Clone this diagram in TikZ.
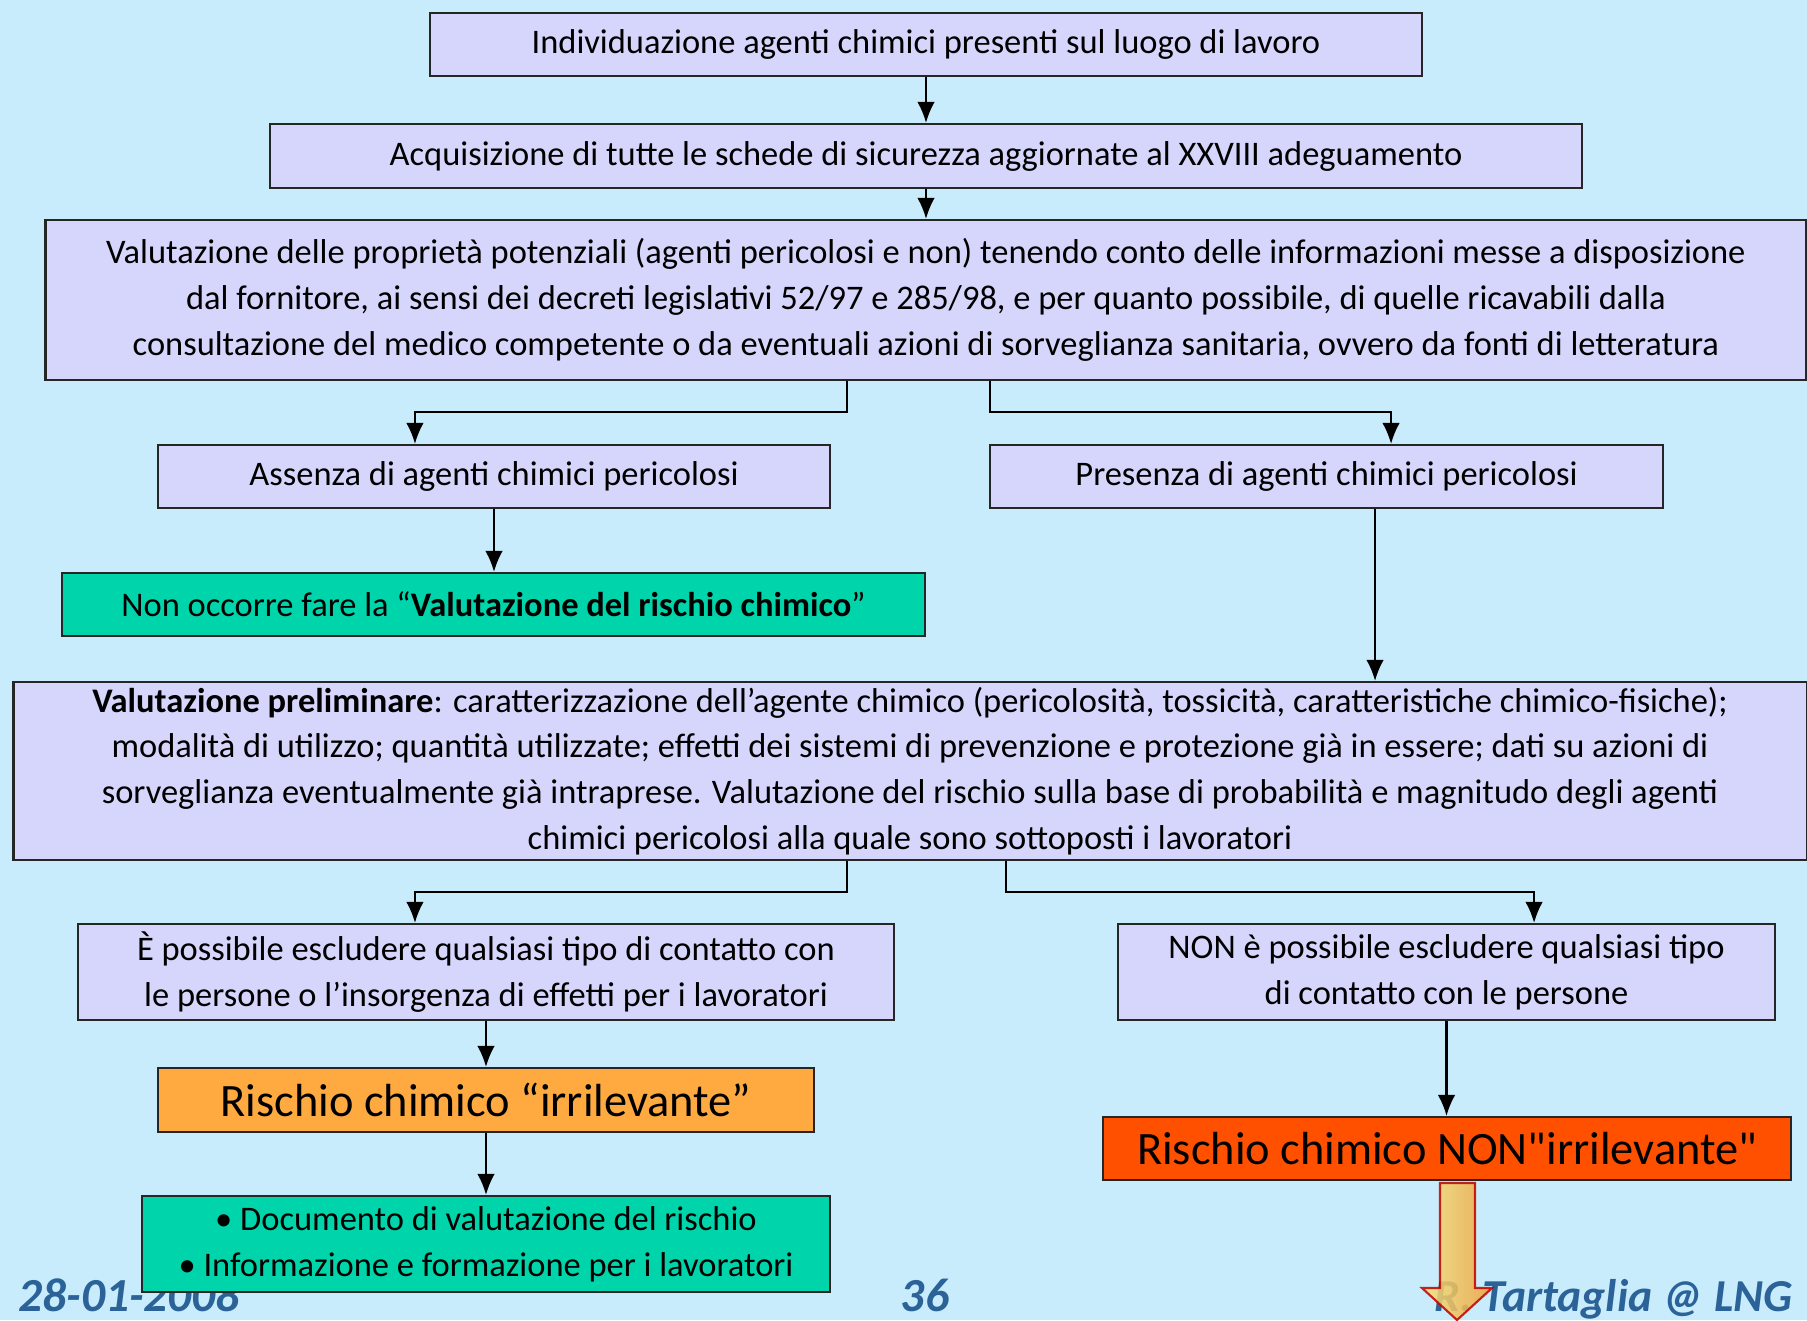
\documentclass[tikz,border=0pt]{standalone}
\usepackage{fontspec}
\setmainfont{Carlito}
\newfontfamily\dritto{Carlito}
\usetikzlibrary{arrows.meta}

\definecolor{sfondo}{HTML}{C8ECFC}
\definecolor{lilla}{HTML}{D6D6FC}
\definecolor{verdeacqua}{HTML}{00D4AA}
\definecolor{arancio}{HTML}{FFAA40}
\definecolor{rosso}{HTML}{FF5000}
\definecolor{blupiede}{HTML}{2B6399}
\definecolor{giallo}{HTML}{F6E27C}
\definecolor{ocra}{HTML}{F0A03A}

\begin{document}
\begin{tikzpicture}[x=0.01cm, y=-0.01cm,
        blocco/.style = {draw=black!85, line width=0.6pt, fill=lilla, align=center, inner sep=0pt,
                         font=\fontsize{9.8}{13}\selectfont},
        verde/.style = {blocco, fill=verdeacqua},
        rischio/.style = {blocco, font=\fontsize{13.2}{16}\selectfont},
        freccia/.style = {-{Latex[length=6pt,width=5pt]}, line width=0.6pt},
        piede/.style = {font=\fontsize{13.5}{16}\selectfont\bfseries\itshape, text=blupiede}]
                \useasboundingbox (0,0) rectangle (1807,1320);
                \fill[sfondo] (0,0) rectangle (1807,1320);

                \node[piede, anchor=base west] at (6, 1311) (data) {28-01-2008};
                \node[piede, anchor=base] at (925, 1311) (pagina) {36};
                \node[piede, font=\fontsize{13}{16}\selectfont\bfseries\itshape, anchor=base east] at (1805, 1311) (autore)
                        {R. Tartaglia @ LNG};

                \node[blocco, minimum width=9.92cm, minimum height=0.63cm] at (926, 44.5) (individua)
                        {Individuazione agenti chimici presenti sul luogo di lavoro};
                \node[blocco, minimum width=13.12cm, minimum height=0.64cm] at (926, 156) (schede)
                        {Acquisizione di tutte le schede di sicurezza aggiornate al XXVIII adeguamento};
                \node[blocco, minimum width=17.6cm, minimum height=1.6cm] at (926, 300) (proprieta)
                        {Valutazione delle proprietà potenziali (agenti pericolosi e non) tenendo conto delle informazioni messe a disposizione\\
                         dal fornitore, ai sensi dei decreti legislativi 52/97 e 285/98, e per quanto possibile, di quelle ricavabili dalla\\
                         consultazione del medico competente o da eventuali azioni di sorveglianza sanitaria, ovvero da fonti di letteratura};
                \node[blocco, minimum width=6.72cm, minimum height=0.63cm] at (494, 476.5) (assenza)
                        {Assenza di agenti chimici pericolosi};
                \node[blocco, minimum width=6.73cm, minimum height=0.63cm] at (1326.5, 476.5) (presenza)
                        {Presenza di agenti chimici pericolosi};
                \node[verde, minimum width=8.63cm, minimum height=0.63cm] at (493.5, 604.5) (nonocc)
                        {Non occorre fare la “\textbf{Valutazione del rischio chimico}”};
                \node[blocco, minimum width=17.92cm, minimum height=1.78cm] at (910, 771) (prelim)
                        {\textbf{Valutazione preliminare}: caratterizzazione dell’agente chimico (pericolosità, tossicità, caratteristiche chimico-fisiche);\\
                         modalità di utilizzo; quantità utilizzate; effetti dei sistemi di prevenzione e protezione già in essere; dati su azioni di\\
                         sorveglianza eventualmente già intraprese. Valutazione del rischio sulla base di probabilità e magnitudo degli agenti\\
                         chimici pericolosi alla quale sono sottoposti i lavoratori};
                \node[blocco, minimum width=8.16cm, minimum height=0.96cm] at (486, 972) (esclude)
                        {È possibile escludere qualsiasi tipo di contatto con\\
                         le persone o l’insorgenza di effetti per i lavoratori};
                \node[blocco, minimum width=6.57cm, minimum height=0.96cm] at (1446.5, 972) (nonesclude)
                        {NON è possibile escludere qualsiasi tipo\\
                         di contatto con le persone};
                \node[rischio, fill=arancio, minimum width=6.56cm, minimum height=0.64cm] at (486, 1100) (irril)
                        {Rischio chimico “irrilevante”};
                \node[rischio, fill=rosso, minimum width=6.88cm, minimum height=0.63cm] at (1447, 1148.5) (nonirril)
                        {Rischio chimico NON{\dritto"}irrilevante{\dritto"}};
                \node[verde, minimum width=6.88cm, minimum height=0.96cm] at (486, 1244) (documento)
                        {• Documento di valutazione del rischio\\
                         • Informazione e formazione per i lavoratori};

                \draw[freccia] (individua.south) -- (schede.north);
                \draw[freccia] (schede.south) -- (proprieta.north);
                \draw[freccia] ([xshift=-0.79cm]proprieta.south) -- ++(0, 31) -| ([xshift=-0.79cm]assenza.north);
                \draw[freccia] ([xshift=0.64cm]proprieta.south) -- ++(0, 31) -| ([xshift=0.645cm]presenza.north);
                \draw[freccia] (assenza.south) -- (assenza.south |- nonocc.north);
                \draw[freccia] ([xshift=0.485cm]presenza.south) -- ([xshift=0.485cm]presenza.south |- prelim.north);
                \draw[freccia] ([xshift=-0.63cm]prelim.south) -- ++(0, 31) -| ([xshift=-0.71cm]esclude.north);
                \draw[freccia] ([xshift=0.96cm]prelim.south) -- ++(0, 31) -| ([xshift=0.875cm]nonesclude.north);
                \draw[freccia] (esclude.south) -- (irril.north);
                \draw[freccia] (irril.south) -- (documento.north);
                \draw[freccia] (nonesclude.south) -- (nonesclude.south |- nonirril.north);

                \draw[draw=red!75!black, line width=0.6pt, left color=giallo, right color=ocra, opacity=0.85]
                        (1440, 1183) -- (1475, 1183) -- (1475, 1288) -- (1492, 1288) -- (1457, 1320)
                        -- (1422, 1288) -- (1440, 1288) -- cycle;
\end{tikzpicture}
\end{document}
